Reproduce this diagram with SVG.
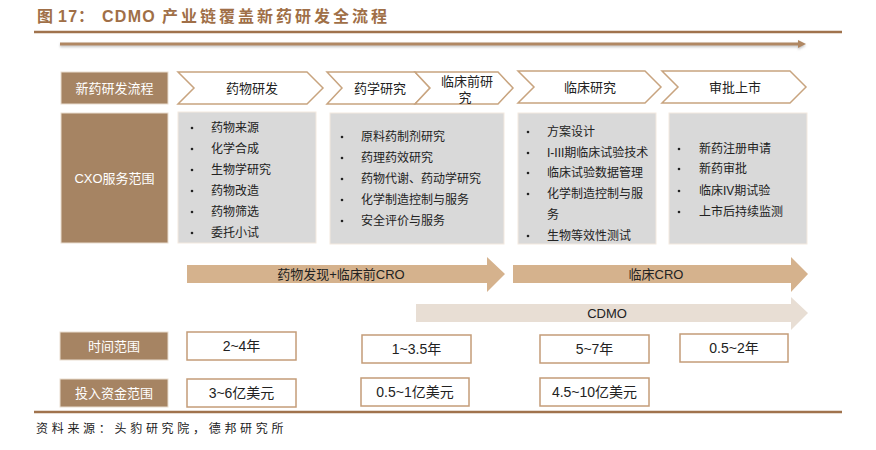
<svg xmlns="http://www.w3.org/2000/svg" width="876" height="450" viewBox="0 0 876 450">
<style>
text{font-family:"Liberation Sans","Noto Sans CJK SC",sans-serif;}
.t{font-size:16px;font-weight:bold;fill:#a06f47;}
.tc{letter-spacing:3px;}
.tl{letter-spacing:1.3px;}
.hdr{fill:#a68463;stroke:#e9ddd0;stroke-width:1;}
.hdrt{font-size:13px;fill:#ffffff;text-anchor:middle;dominant-baseline:central;}
.chev{fill:#ffffff;stroke:#c8a47f;stroke-width:1.5;}
.cht{font-size:13px;fill:#222;text-anchor:middle;dominant-baseline:central;}
.gray{fill:#d9d9d9;stroke:#f3e9df;stroke-width:1;}
.it{font-size:12px;fill:#222;dominant-baseline:central;}
.bul{fill:#222;}
.arr1{fill:#d5b28d;}
.arr2{fill:#e8ded4;}
.at{font-size:13px;fill:#222;text-anchor:middle;dominant-baseline:central;}
.vb{fill:#ffffff;stroke:#c49c78;stroke-width:1.5;}
.vt{font-size:14px;fill:#222;text-anchor:middle;dominant-baseline:central;}
.rule{stroke:#a0734d;stroke-width:2.5;}
.src{font-size:12px;fill:#222;letter-spacing:3.7px;}
</style>
<defs>
<filter id="sh" x="-5%" y="-100%" width="110%" height="400%">
<feDropShadow dx="0" dy="1.5" stdDeviation="1" flood-color="#999" flood-opacity="0.6"/>
</filter>
</defs>

<text class="t" x="37" y="22">图<tspan x="58" class="tl">17</tspan><tspan x="78">：</tspan><tspan x="102" class="tl">CDMO</tspan><tspan class="tc" x="162">产业链覆盖新药研发全流程</tspan></text>
<line class="rule" x1="34" y1="32" x2="842" y2="32"/>

<g id="timeline" filter="url(#sh)">
<rect x="60" y="42.5" width="740" height="3" fill="#b08762"/>
<polygon points="798,40 806,44 798,48" fill="#b08762"/>
</g>

<g id="hdr-process">
<rect class="hdr" x="61" y="72" width="107" height="32"/>
<text class="hdrt" x="114.5" y="88">新药研发流程</text>
</g>

<g id="stage-1">
<polygon class="chev" points="178,72 307,72 323,88 307,104 178,104 194,88"/>
<text class="cht" x="252" y="88">药物研发</text>
</g>
<g id="stage-2">
<polygon class="chev" points="327,72 415,72 430,88 415,104 327,104 342,88"/>
<text class="cht" x="380" y="88">药学研究</text>
</g>
<g id="stage-3">
<polygon class="chev" points="415,72 498,72 513,88 498,104 415,104 430,88"/>
<text class="cht" x="467" y="81">临床前研</text>
<text class="cht" x="465" y="97">究</text>
</g>
<g id="stage-4">
<polygon class="chev" points="518,71 645,71 661,87 645,103 518,103 534,87"/>
<text class="cht" x="590" y="87">临床研究</text>
</g>
<g id="stage-5">
<polygon class="chev" points="662,71 790,71 806,87 790,103 662,103 678,87"/>
<text class="cht" x="735" y="87">审批上市</text>
</g>

<g id="hdr-cxo">
<rect class="hdr" x="61" y="113" width="107" height="130"/>
<text class="hdrt" x="114.5" y="178">CXO服务范围</text>
</g>

<g id="scope-1">
<rect class="gray" x="178" y="112" width="138" height="131"/>
<circle class="bul" cx="192" cy="128" r="1.3"/><text class="it" x="211" y="128">药物来源</text>
<circle class="bul" cx="192" cy="149" r="1.3"/><text class="it" x="211" y="149">化学合成</text>
<circle class="bul" cx="192" cy="170" r="1.3"/><text class="it" x="211" y="170">生物学研究</text>
<circle class="bul" cx="192" cy="191" r="1.3"/><text class="it" x="211" y="191">药物改造</text>
<circle class="bul" cx="192" cy="212" r="1.3"/><text class="it" x="211" y="212">药物筛选</text>
<circle class="bul" cx="192" cy="233" r="1.3"/><text class="it" x="211" y="233">委托小试</text>
</g>

<g id="scope-2">
<rect class="gray" x="330" y="113" width="174" height="131"/>
<circle class="bul" cx="342" cy="137" r="1.3"/><text class="it" x="361" y="137">原料药制剂研究</text>
<circle class="bul" cx="342" cy="158" r="1.3"/><text class="it" x="361" y="158">药理药效研究</text>
<circle class="bul" cx="342" cy="179" r="1.3"/><text class="it" x="361" y="179">药物代谢、药动学研究</text>
<circle class="bul" cx="342" cy="200" r="1.3"/><text class="it" x="361" y="200">化学制造控制与服务</text>
<circle class="bul" cx="342" cy="221" r="1.3"/><text class="it" x="361" y="221">安全评价与服务</text>
</g>

<g id="scope-3">
<rect class="gray" x="518" y="113" width="138" height="131"/>
<circle class="bul" cx="528" cy="132" r="1.3"/><text class="it" x="547" y="132">方案设计</text>
<circle class="bul" cx="528" cy="153" r="1.3"/><text class="it" x="547" y="153">I-III期临床试验技术</text>
<circle class="bul" cx="528" cy="173" r="1.3"/><text class="it" x="547" y="173">临床试验数据管理</text>
<circle class="bul" cx="528" cy="194" r="1.3"/><text class="it" x="547" y="194">化学制造控制与服</text>
<text class="it" x="547" y="215">务</text>
<circle class="bul" cx="528" cy="236" r="1.3"/><text class="it" x="547" y="236">生物等效性测试</text>
</g>

<g id="scope-4">
<rect class="gray" x="669" y="113" width="138" height="131"/>
<circle class="bul" cx="679" cy="149" r="1.3"/><text class="it" x="699" y="149">新药注册申请</text>
<circle class="bul" cx="679" cy="169" r="1.3"/><text class="it" x="699" y="169">新药审批</text>
<circle class="bul" cx="679" cy="191" r="1.3"/><text class="it" x="699" y="191">临床IV期试验</text>
<circle class="bul" cx="679" cy="212" r="1.3"/><text class="it" x="699" y="212">上市后持续监测</text>
</g>

<g id="connectors">
<g id="arrow-preclinical">
<polygon class="arr1" points="187,265 487,265 487,257 505,274 487,292 487,283 187,283"/>
<text class="at" x="341" y="274">药物发现+临床前CRO</text>
</g>
<g id="arrow-clinical">
<polygon class="arr1" points="513,265 791,265 791,257 808,274 791,292 791,283 513,283"/>
<text class="at" x="656" y="274">临床CRO</text>
</g>
<g id="arrow-cdmo">
<polygon class="arr2" points="416,304 791,304 791,297 808,313 791,330 791,322 416,322"/>
<text class="at" x="607" y="313">CDMO</text>
</g>
</g>

<g id="hdr-time">
<rect class="hdr" x="60" y="332" width="108" height="28"/>
<text class="hdrt" x="114" y="346">时间范围</text>
</g>
<g id="time-1"><rect class="vb" x="187" y="332" width="109" height="28"/><text class="vt" x="241.5" y="346">2~4年</text></g>
<g id="time-2"><rect class="vb" x="362" y="335" width="109" height="28"/><text class="vt" x="416.5" y="349">1~3.5年</text></g>
<g id="time-3"><rect class="vb" x="540" y="335" width="109" height="28"/><text class="vt" x="594.5" y="349">5~7年</text></g>
<g id="time-4"><rect class="vb" x="680" y="334" width="108" height="28"/><text class="vt" x="734" y="348">0.5~2年</text></g>

<g id="hdr-fund">
<rect class="hdr" x="60" y="379" width="108" height="28"/>
<text class="hdrt" x="114" y="393">投入资金范围</text>
</g>
<g id="fund-1"><rect class="vb" x="187" y="379" width="109" height="28"/><text class="vt" x="241.5" y="393">3~6亿美元</text></g>
<g id="fund-2"><rect class="vb" x="361" y="378" width="108" height="28"/><text class="vt" x="415" y="392">0.5~1亿美元</text></g>
<g id="fund-3"><rect class="vb" x="540" y="378" width="109" height="28"/><text class="vt" x="594.5" y="392">4.5~10亿美元</text></g>

<line class="rule" x1="34" y1="412" x2="842" y2="412"/>
<text class="src" x="36" y="433">资料来源：头豹研究院，德邦研究所</text>
</svg>
